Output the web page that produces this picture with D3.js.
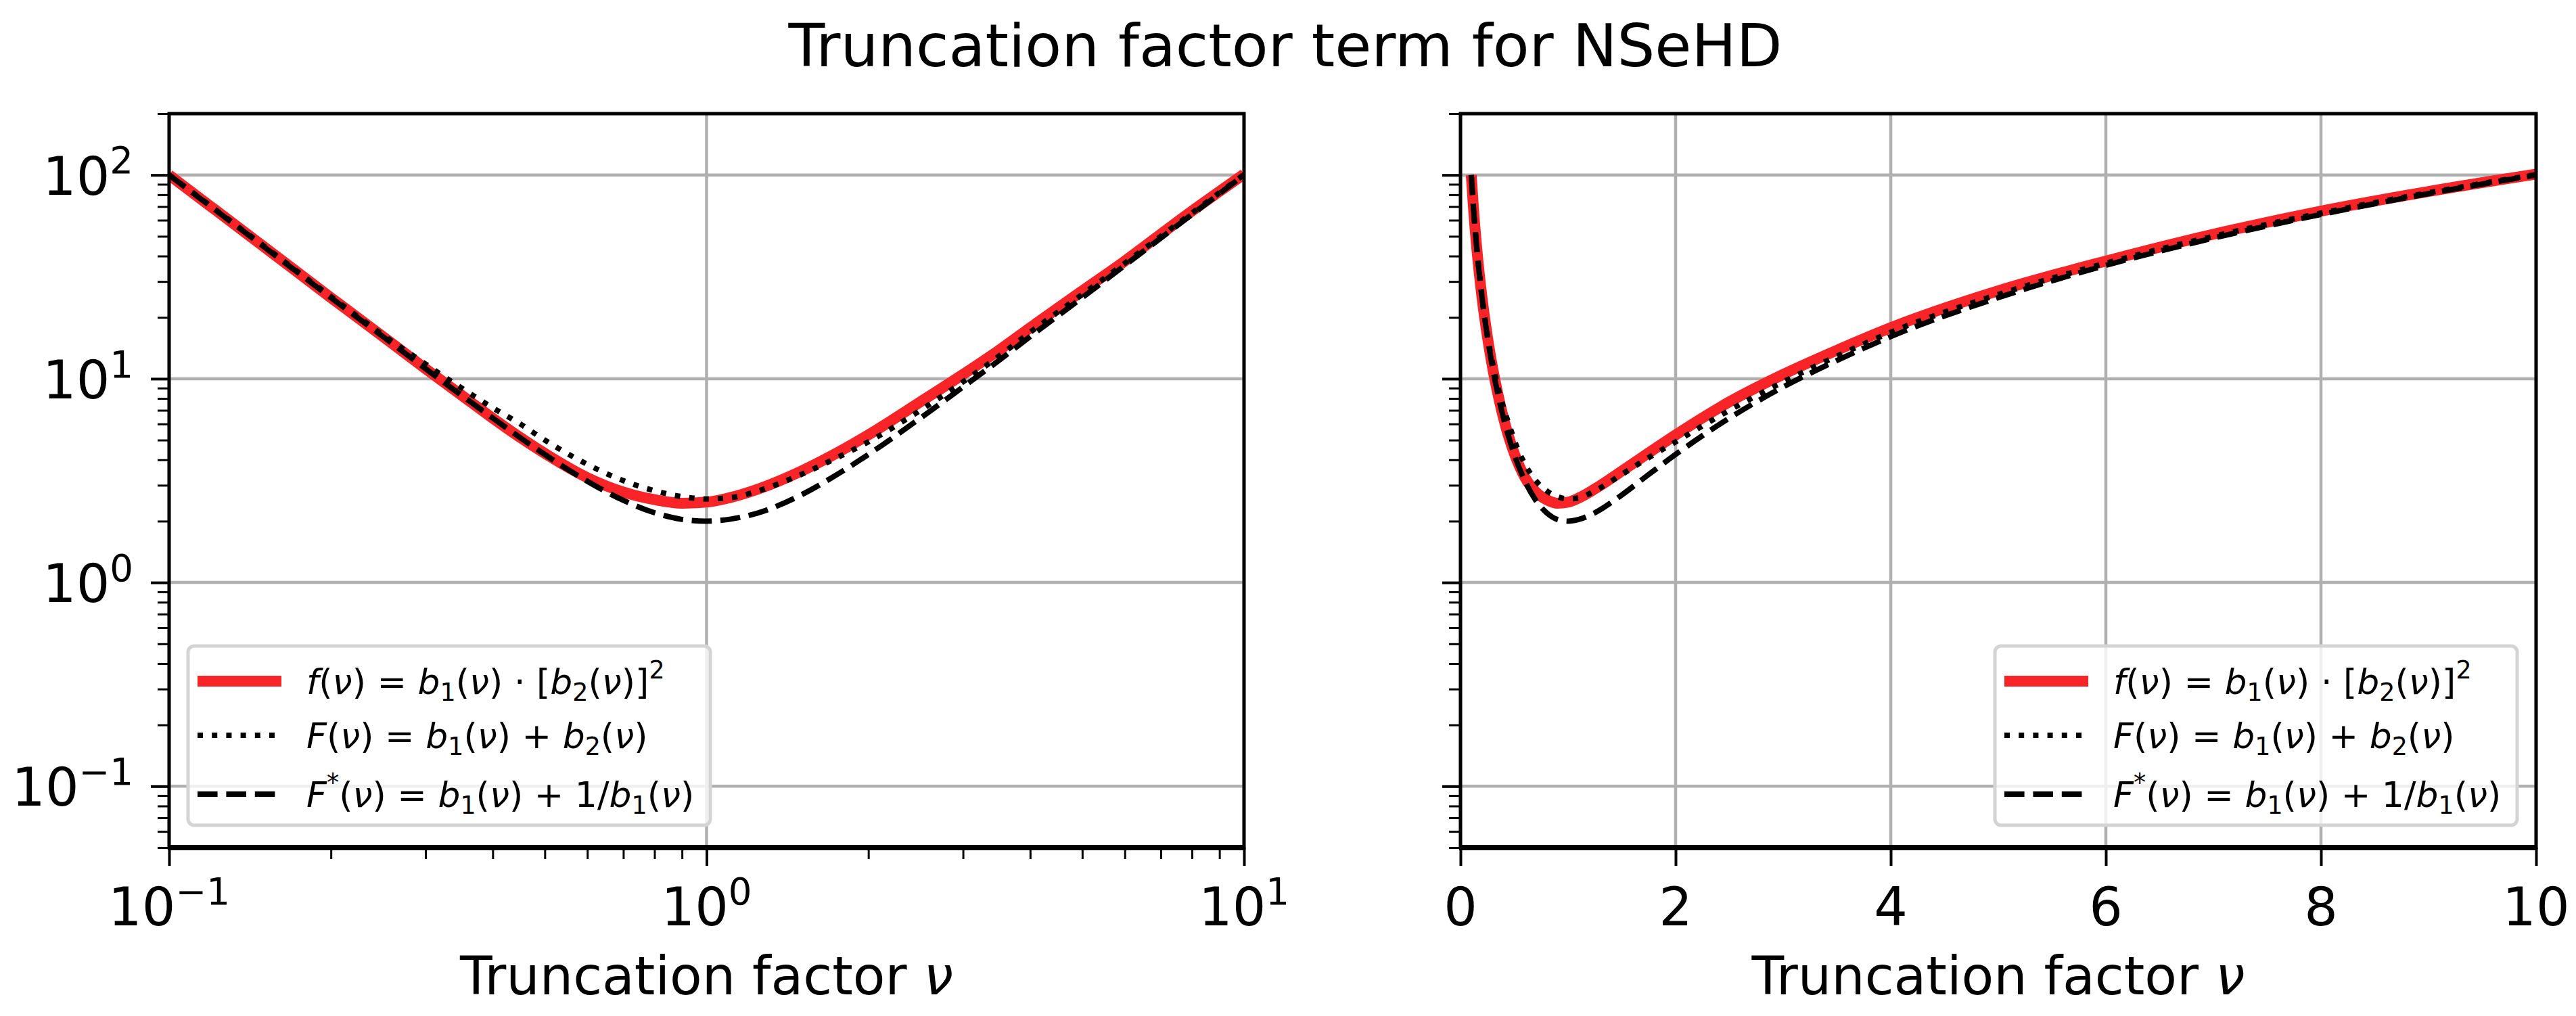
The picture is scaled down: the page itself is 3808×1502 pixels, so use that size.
<!DOCTYPE html>
<meta charset="utf-8">
<style>
body { margin: 0; background: #fff; }
svg { display: block; font-family: "DejaVu Sans", sans-serif; }
text { white-space: pre; }
.grid line { stroke: #b0b0b0; stroke-width: 4.5; }
.tick line { stroke: #000; }
</style>
<svg width="3808" height="1502"></svg>
<script src="https://d3js.org/d3.v7.min.js"></script>
<script>

// values, same nu grid for all three curves
var nu = [0.1, 0.12, 0.15, 0.2, 0.25, 0.3, 0.35, 0.4, 0.45, 0.5, 0.6, 0.7, 0.8, 0.9, 1.0,
          1.1, 1.25, 1.5, 1.75, 2.0, 2.5, 3.0, 3.5, 4, 5, 6, 7, 8, 9, 10];
var fProduct = [100, 69.5, 44.5, 25.0, 16.1, 11.2, 8.3, 6.4, 5.15, 4.3, 3.27, 2.78, 2.55, 2.45, 2.48,
                2.6, 2.88, 3.52, 4.33, 5.3, 7.7, 10.5, 13.8, 17.8, 27.0, 37.8, 51.2, 66.5, 83.0, 101];
var FSum = [100, 69.8, 44.8, 25.3, 16.4, 11.8, 9.0, 7.2, 6.0, 5.0, 3.8, 3.16, 2.82, 2.64, 2.57,
            2.6, 2.82, 3.39, 4.1, 4.9, 7.0, 9.65, 12.9, 16.9, 25.9, 36.9, 50.0, 65.0, 81.8, 100.5];
var FStar = [100, 69.5, 44.5, 25.0, 16.1, 11.2, 8.29, 6.41, 5.14, 4.25, 3.14, 2.53, 2.20, 2.04, 2.00,
             2.04, 2.20, 2.69, 3.39, 4.25, 6.41, 9.11, 12.3, 16.1, 25.0, 36.0, 49.0, 64.0, 81.0, 100];

var seriesLabels = ["f(ν) = b_1(ν) · [b_2(ν)]^2",
                    "F(ν) = b_1(ν) + b_2(ν)",
                    "F^*(ν) = b_1(ν) + 1/b_1(ν)"];

var yMajor = [0.1, 1, 10, 100];
var logXMajor = [0.1, 1, 10];
var linXMajor = [0, 2, 4, 6, 8, 10];
var titleText = "Truncation factor term for NSeHD";
var xLabelText = "Truncation factor ";

var svg = d3.select("svg");
var plotTop = 168, plotBottom = 1253;
var red = "#f82428";

var y = d3.scaleLog().domain([0.05, 200]).range([plotBottom, plotTop]);

var yMinor = [];
for (var d = -2; d <= 2; d++) {
  for (var k = 2; k <= 9; k++) {
    var v = +(k + "e" + d);
    if (v >= 0.05 && v <= 200) yMinor.push(v);
  }
}
var xMinor = [];
for (var d = -1; d <= 0; d++) {
  for (var k = 2; k <= 9; k++) xMinor.push(+(k + "e" + d));
}

var series = [
  {values: fProduct, color: red, width: 16, dash: null},
  {values: FSum, color: "#000", width: 8, dash: "8,13.2"},
  {values: FStar, color: "#000", width: 8, dash: "29.6,12.8"}
];

var panels = [
  {x: d3.scaleLog().domain([0.1, 10]).range([250, 1839]), log: true, legendX: 278},
  {x: d3.scaleLinear().domain([0, 10]).range([2159, 3749]), log: false, legendX: 2949}
];

// writes f(ν)-style labels: _x subscript, ^x or ^{..} superscript, math letters in italic
function mathLabel(text, str, size, supRaise) {
  var parts = [], i = 0;
  while (i < str.length) {
    var c = str[i];
    if (c === "_" || c === "^") {
      var shift = c === "_" ? -1 : 1;
      i++;
      var s = str[i];
      if (s === "{") { var j = str.indexOf("}", i); s = str.slice(i + 1, j); i = j; }
      parts.push({t: s, shift: shift});
    } else {
      parts.push({t: c, shift: 0});
    }
    i++;
  }
  var cur = 0;
  parts.forEach(function(p) {
    var off = p.shift === 1 ? -supRaise * size : p.shift === -1 ? 0.2 * size : 0;
    var ts = text.append("tspan").text(p.t).attr("dy", off - cur);
    cur = off;
    if (p.shift) ts.attr("font-size", size * 0.7);
    if (/[fFbν]/.test(p.t)) ts.attr("font-style", "italic");
  });
}

svg.append("text")
    .attr("x", 1900)
    .attr("y", 98)
    .attr("text-anchor", "middle")
    .attr("font-size", 88)
    .text(titleText);

panels.forEach(function(p, pi) {
  var x = p.x,
      x0 = x.range()[0], x1 = x.range()[1],
      xMajor = p.log ? logXMajor : linXMajor;
  var g = svg.append("g");

  g.append("clipPath").attr("id", "clip" + pi)
    .append("rect")
      .attr("x", x0).attr("y", plotTop)
      .attr("width", x1 - x0).attr("height", plotBottom - plotTop);

  // grid
  var grid = g.append("g").attr("class", "grid");
  grid.selectAll(".gy").data(yMajor).enter().append("line")
      .attr("x1", x0).attr("x2", x1)
      .attr("y1", function(d) { return y(d); })
      .attr("y2", function(d) { return y(d); });
  grid.selectAll(".gx").data(xMajor).enter().append("line")
      .attr("y1", plotTop).attr("y2", plotBottom)
      .attr("x1", function(d) { return x(d); })
      .attr("x2", function(d) { return x(d); });

  // curves
  var line = d3.line()
      .x(function(d, i) { return x(nu[i]); })
      .y(function(d) { return y(d); })
      .curve(d3.curveMonotoneX);

  g.append("g").attr("clip-path", "url(#clip" + pi + ")")
    .selectAll("path").data(series).enter().append("path")
      .attr("fill", "none")
      .attr("stroke", function(s) { return s.color; })
      .attr("stroke-width", function(s) { return s.width; })
      .attr("stroke-dasharray", function(s) { return s.dash; })
      .attr("d", function(s) { return line(s.values); });

  // ticks
  var ax = g.append("g").attr("transform", "translate(0," + plotBottom + ")")
      .call(d3.axisBottom(x).tickValues(xMajor).tickSize(27).tickSizeOuter(0).tickFormat(""));
  ax.selectAll(".tick line").attr("stroke-width", 4);
  if (p.log) {
    var axm = g.append("g").attr("transform", "translate(0," + plotBottom + ")")
        .call(d3.axisBottom(x).tickValues(xMinor).tickSize(17).tickSizeOuter(0).tickFormat(""));
    axm.selectAll(".tick line").attr("stroke-width", 3);
    axm.select(".domain").remove();
  }
  var ay = g.append("g").attr("transform", "translate(" + x0 + ",0)")
      .call(d3.axisLeft(y).tickValues(yMajor).tickSize(27).tickSizeOuter(0).tickFormat(""));
  ay.selectAll(".tick line").attr("stroke-width", 4);
  var aym = g.append("g").attr("transform", "translate(" + x0 + ",0)")
      .call(d3.axisLeft(y).tickValues(yMinor).tickSize(17).tickSizeOuter(0).tickFormat(""));
  aym.selectAll(".tick line").attr("stroke-width", 3);
  g.selectAll(".domain").remove();

  // spines
  g.append("rect")
      .attr("x", x0).attr("y", plotTop)
      .attr("width", x1 - x0).attr("height", plotBottom - plotTop)
      .attr("fill", "none").attr("stroke", "#000").attr("stroke-width", 5);
  g.append("line")
      .attr("x1", x0 - 2).attr("x2", x1 + 2)
      .attr("y1", plotBottom).attr("y2", plotBottom)
      .attr("stroke", "#000").attr("stroke-width", 8);

  // tick labels
  xMajor.forEach(function(v) {
    var t = g.append("text")
        .attr("x", x(v)).attr("y", 1368)
        .attr("text-anchor", "middle")
        .attr("font-size", 78);
    if (p.log) mathLabel(t, "10^{" + String(Math.round(Math.log10(v))).replace("-", "\u2212") + "}", 78, 0.4);
    else t.text(v);
  });
  if (pi === 0) {
    yMajor.forEach(function(v) {
      var t = g.append("text")
          .attr("x", 197).attr("y", y(v) + 29)
          .attr("text-anchor", "end")
          .attr("font-size", 78);
      mathLabel(t, "10^{" + String(Math.round(Math.log10(v))).replace("-", "\u2212") + "}", 78, 0.4);
    });
  }

  var xl = g.append("text")
      .attr("x", (x0 + x1) / 2).attr("y", 1470)
      .attr("text-anchor", "middle")
      .attr("font-size", 78);
  xl.append("tspan").text(xLabelText);
  xl.append("tspan").attr("font-style", "italic").text("ν");

  // legend
  var lg = g.append("g").attr("transform", "translate(" + p.legendX + ",955)");
  lg.append("rect")
      .attr("width", 772).attr("height", 265).attr("rx", 9)
      .attr("fill", "#fff").attr("fill-opacity", 0.8)
      .attr("stroke", "#d4d4d4").attr("stroke-width", 5);
  var rowY = [52, 132, 219];
  series.forEach(function(s, i) {
    lg.append("line")
        .attr("x1", 14).attr("x2", 138)
        .attr("y1", rowY[i]).attr("y2", rowY[i])
        .attr("stroke", s.color)
        .attr("stroke-width", s.width)
        .attr("stroke-dasharray", s.dash);
    var t = lg.append("text")
        .attr("x", 175).attr("y", rowY[i] + 19)
        .attr("font-size", 52);
    mathLabel(t, seriesLabels[i], 52, 0.45);
  });
});

</script>
